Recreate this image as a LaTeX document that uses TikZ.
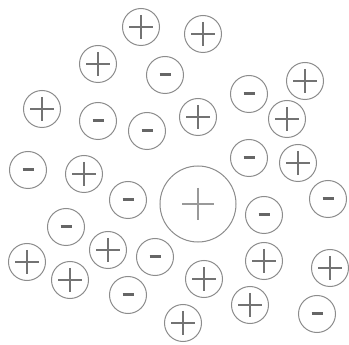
\documentclass[tikz,border=0pt]{standalone}
\usetikzlibrary{calc}
\begin{document}
\begin{tikzpicture}[x=1pt,y=-1pt,
  ring/.style={draw=black!45,line width=1pt,fill=none},
  plusbar/.style={draw=black!55,line width=1.4pt},
  minusbar/.style={draw=black!60,line width=3pt}]
\useasboundingbox (0,0) rectangle (349,345);
% positive charges
\foreach \x/\y [count=\i] in {141/27,203/34,98/64,42/109,198/117,305/81,287/119,298/163,84/174,27/262,108/250,70/280,264/261,204/279,330/268,250/305,183/323}{
  \node[ring,circle,minimum size=37pt,inner sep=0pt] (p\i) at (\x,\y) {};
  \draw[plusbar] ($(p\i.center)+(-12,0)$) -- ($(p\i.center)+(12,0)$);
  \draw[plusbar] ($(p\i.center)+(0,-12)$) -- ($(p\i.center)+(0,12)$);
}
% negative charges
\foreach \x/\y [count=\i] in {165/75,98/121,147/131,249/94,249/158,28/170,128/200,328/199,264/215,66/227,155/257,128/295,317/314}{
  \node[ring,circle,minimum size=37pt,inner sep=0pt] (m\i) at (\x,\y) {};
  \draw[minusbar] ($(m\i.center)+(-5.5,0)$) -- ($(m\i.center)+(5.5,0)$);
}
% central large charge
\node[ring,circle,minimum size=76pt,inner sep=0pt] (big) at (198,204) {};
\draw[plusbar,draw=black!40] ($(big.center)+(-16,0)$) -- ($(big.center)+(16,0)$);
\draw[plusbar,draw=black!40] ($(big.center)+(0,-16)$) -- ($(big.center)+(0,16)$);
\end{tikzpicture}
\end{document}
